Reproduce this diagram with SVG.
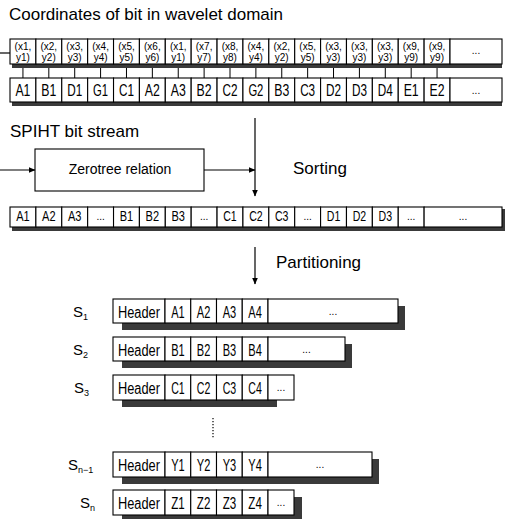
<svg xmlns="http://www.w3.org/2000/svg" width="506" height="519" viewBox="0 0 506 519">
<style>
text{font-family:"Liberation Sans",Arial,sans-serif;fill:#000}
.c{fill:#fff;stroke:#000;stroke-width:1.1}
.sh{fill:#3a3a3a}
.t1{font-size:10px;text-anchor:middle}
.t2{font-size:17px;text-anchor:middle}
.t3{font-size:14px;text-anchor:middle}
.tp{font-size:16px;text-anchor:middle}
.lab{font-size:17px}
.sl{font-size:15px}
.sub{font-size:9px}
.ln{stroke:#000;stroke-width:1.2;fill:none}
.tk{stroke:#000;stroke-width:1}
</style>
<defs>
<marker id="ah" markerWidth="7" markerHeight="6" refX="6.5" refY="3" orient="auto" markerUnits="userSpaceOnUse">
<path d="M0,0 L7,3 L0,6 Z" fill="#000"/>
</marker>
</defs>

<text class="lab" x="9" y="20">Coordinates of bit in wavelet domain</text>
<text class="lab" x="10" y="137">SPIHT bit stream</text>
<text class="lab" x="293" y="174">Sorting</text>
<text class="lab" x="276" y="268">Partitioning</text>

<g id="coords-row">
<rect class="sh" x="12" y="64" width="490" height="4"/>
<rect class="c" x="10" y="39" width="25.88" height="25"/>
<rect class="c" x="35.88" y="39" width="25.88" height="25"/>
<rect class="c" x="61.76" y="39" width="25.88" height="25"/>
<rect class="c" x="87.65" y="39" width="25.88" height="25"/>
<rect class="c" x="113.53" y="39" width="25.88" height="25"/>
<rect class="c" x="139.41" y="39" width="25.88" height="25"/>
<rect class="c" x="165.29" y="39" width="25.88" height="25"/>
<rect class="c" x="191.18" y="39" width="25.88" height="25"/>
<rect class="c" x="217.06" y="39" width="25.88" height="25"/>
<rect class="c" x="242.94" y="39" width="25.88" height="25"/>
<rect class="c" x="268.82" y="39" width="25.88" height="25"/>
<rect class="c" x="294.71" y="39" width="25.88" height="25"/>
<rect class="c" x="320.59" y="39" width="25.88" height="25"/>
<rect class="c" x="346.47" y="39" width="25.88" height="25"/>
<rect class="c" x="372.35" y="39" width="25.88" height="25"/>
<rect class="c" x="398.24" y="39" width="25.88" height="25"/>
<rect class="c" x="424.12" y="39" width="25.88" height="25"/>
<rect class="c" x="450" y="39" width="52" height="25"/>
<text class="t1" x="22.94" y="50">(x1,</text><text class="t1" x="22.94" y="61">y1)</text>
<text class="t1" x="48.82" y="50">(x2,</text><text class="t1" x="48.82" y="61">y2)</text>
<text class="t1" x="74.71" y="50">(x3,</text><text class="t1" x="74.71" y="61">y3)</text>
<text class="t1" x="100.59" y="50">(x4,</text><text class="t1" x="100.59" y="61">y4)</text>
<text class="t1" x="126.47" y="50">(x5,</text><text class="t1" x="126.47" y="61">y5)</text>
<text class="t1" x="152.35" y="50">(x6,</text><text class="t1" x="152.35" y="61">y6)</text>
<text class="t1" x="178.24" y="50">(x1,</text><text class="t1" x="178.24" y="61">y1)</text>
<text class="t1" x="204.12" y="50">(x7,</text><text class="t1" x="204.12" y="61">y7)</text>
<text class="t1" x="230" y="50">(x8,</text><text class="t1" x="230" y="61">y8)</text>
<text class="t1" x="255.88" y="50">(x4,</text><text class="t1" x="255.88" y="61">y4)</text>
<text class="t1" x="281.76" y="50">(x2,</text><text class="t1" x="281.76" y="61">y2)</text>
<text class="t1" x="307.65" y="50">(x5,</text><text class="t1" x="307.65" y="61">y5)</text>
<text class="t1" x="333.53" y="50">(x3,</text><text class="t1" x="333.53" y="61">y3)</text>
<text class="t1" x="359.41" y="50">(x3,</text><text class="t1" x="359.41" y="61">y3)</text>
<text class="t1" x="385.29" y="50">(x3,</text><text class="t1" x="385.29" y="61">y3)</text>
<text class="t1" x="411.18" y="50">(x9,</text><text class="t1" x="411.18" y="61">y9)</text>
<text class="t1" x="437.06" y="50">(x9,</text><text class="t1" x="437.06" y="61">y9)</text>
<text class="t1" x="476" y="54">...</text>
</g>

<g id="bits-row">
<rect class="sh" x="12" y="102" width="490" height="4"/>
<rect class="c" x="10" y="78" width="25.88" height="24"/>
<rect class="c" x="35.88" y="78" width="25.88" height="24"/>
<rect class="c" x="61.76" y="78" width="25.88" height="24"/>
<rect class="c" x="87.65" y="78" width="25.88" height="24"/>
<rect class="c" x="113.53" y="78" width="25.88" height="24"/>
<rect class="c" x="139.41" y="78" width="25.88" height="24"/>
<rect class="c" x="165.29" y="78" width="25.88" height="24"/>
<rect class="c" x="191.18" y="78" width="25.88" height="24"/>
<rect class="c" x="217.06" y="78" width="25.88" height="24"/>
<rect class="c" x="242.94" y="78" width="25.88" height="24"/>
<rect class="c" x="268.82" y="78" width="25.88" height="24"/>
<rect class="c" x="294.71" y="78" width="25.88" height="24"/>
<rect class="c" x="320.59" y="78" width="25.88" height="24"/>
<rect class="c" x="346.47" y="78" width="25.88" height="24"/>
<rect class="c" x="372.35" y="78" width="25.88" height="24"/>
<rect class="c" x="398.24" y="78" width="25.88" height="24"/>
<rect class="c" x="424.12" y="78" width="25.88" height="24"/>
<rect class="c" x="450" y="78" width="52" height="24"/>
<text class="t2" x="22.94" y="96" textLength="15" lengthAdjust="spacingAndGlyphs">A1</text>
<text class="t2" x="48.82" y="96" textLength="15" lengthAdjust="spacingAndGlyphs">B1</text>
<text class="t2" x="74.71" y="96" textLength="15" lengthAdjust="spacingAndGlyphs">D1</text>
<text class="t2" x="100.59" y="96" textLength="15" lengthAdjust="spacingAndGlyphs">G1</text>
<text class="t2" x="126.47" y="96" textLength="15" lengthAdjust="spacingAndGlyphs">C1</text>
<text class="t2" x="152.35" y="96" textLength="15" lengthAdjust="spacingAndGlyphs">A2</text>
<text class="t2" x="178.24" y="96" textLength="15" lengthAdjust="spacingAndGlyphs">A3</text>
<text class="t2" x="204.12" y="96" textLength="15" lengthAdjust="spacingAndGlyphs">B2</text>
<text class="t2" x="230" y="96" textLength="15" lengthAdjust="spacingAndGlyphs">C2</text>
<text class="t2" x="255.88" y="96" textLength="15" lengthAdjust="spacingAndGlyphs">G2</text>
<text class="t2" x="281.76" y="96" textLength="15" lengthAdjust="spacingAndGlyphs">B3</text>
<text class="t2" x="307.65" y="96" textLength="15" lengthAdjust="spacingAndGlyphs">C3</text>
<text class="t2" x="333.53" y="96" textLength="15" lengthAdjust="spacingAndGlyphs">D2</text>
<text class="t2" x="359.41" y="96" textLength="15" lengthAdjust="spacingAndGlyphs">D3</text>
<text class="t2" x="385.29" y="96" textLength="15" lengthAdjust="spacingAndGlyphs">D4</text>
<text class="t2" x="411.18" y="96" textLength="15" lengthAdjust="spacingAndGlyphs">E1</text>
<text class="t2" x="437.06" y="96" textLength="15" lengthAdjust="spacingAndGlyphs">E2</text>
<text class="t1" x="476" y="94">...</text>
</g>

<g id="zerotree">
<rect class="c" x="35" y="149" width="169" height="42"/>
<text class="t3" x="120" y="174">Zerotree relation</text>
</g>

<g id="sorted-row">
<rect class="sh" x="12" y="227" width="493" height="4"/>
<rect class="sh" x="502" y="209" width="3" height="22"/>
<rect class="c" x="10" y="207" width="25.88" height="20"/>
<rect class="c" x="35.88" y="207" width="25.88" height="20"/>
<rect class="c" x="61.76" y="207" width="25.88" height="20"/>
<rect class="c" x="87.65" y="207" width="25.88" height="20"/>
<rect class="c" x="113.53" y="207" width="25.88" height="20"/>
<rect class="c" x="139.41" y="207" width="25.88" height="20"/>
<rect class="c" x="165.29" y="207" width="25.88" height="20"/>
<rect class="c" x="191.18" y="207" width="25.88" height="20"/>
<rect class="c" x="217.06" y="207" width="25.88" height="20"/>
<rect class="c" x="242.94" y="207" width="25.88" height="20"/>
<rect class="c" x="268.82" y="207" width="25.88" height="20"/>
<rect class="c" x="294.71" y="207" width="25.88" height="20"/>
<rect class="c" x="320.59" y="207" width="25.88" height="20"/>
<rect class="c" x="346.47" y="207" width="25.88" height="20"/>
<rect class="c" x="372.35" y="207" width="25.88" height="20"/>
<rect class="c" x="398.24" y="207" width="25.88" height="20"/>
<rect class="c" x="424.12" y="207" width="77.88" height="20"/>
<text class="t3" x="22.94" y="221" textLength="13.5" lengthAdjust="spacingAndGlyphs">A1</text>
<text class="t3" x="48.82" y="221" textLength="13.5" lengthAdjust="spacingAndGlyphs">A2</text>
<text class="t3" x="74.71" y="221" textLength="13.5" lengthAdjust="spacingAndGlyphs">A3</text>
<text class="t1" x="100.59" y="220">...</text>
<text class="t3" x="126.47" y="221" textLength="13.5" lengthAdjust="spacingAndGlyphs">B1</text>
<text class="t3" x="152.35" y="221" textLength="13.5" lengthAdjust="spacingAndGlyphs">B2</text>
<text class="t3" x="178.24" y="221" textLength="13.5" lengthAdjust="spacingAndGlyphs">B3</text>
<text class="t1" x="204.12" y="220">...</text>
<text class="t3" x="230" y="221" textLength="13.5" lengthAdjust="spacingAndGlyphs">C1</text>
<text class="t3" x="255.88" y="221" textLength="13.5" lengthAdjust="spacingAndGlyphs">C2</text>
<text class="t3" x="281.76" y="221" textLength="13.5" lengthAdjust="spacingAndGlyphs">C3</text>
<text class="t1" x="307.65" y="220">...</text>
<text class="t3" x="333.53" y="221" textLength="13.5" lengthAdjust="spacingAndGlyphs">D1</text>
<text class="t3" x="359.41" y="221" textLength="13.5" lengthAdjust="spacingAndGlyphs">D2</text>
<text class="t3" x="385.29" y="221" textLength="13.5" lengthAdjust="spacingAndGlyphs">D3</text>
<text class="t1" x="411.18" y="220">...</text>
<text class="t1" x="463" y="220">...</text>
</g>

<g id="s1">
<text class="sl" x="73" y="317">S<tspan class="sub" dy="3">1</tspan></text>
<rect class="sh" x="122" y="306" width="283" height="24"/>
<rect class="c" x="113" y="299" width="52" height="24"/>
<rect class="c" x="165" y="299" width="25.75" height="24"/>
<rect class="c" x="190.75" y="299" width="25.75" height="24"/>
<rect class="c" x="216.5" y="299" width="25.75" height="24"/>
<rect class="c" x="242.25" y="299" width="25.75" height="24"/>
<rect class="c" x="268" y="299" width="130" height="24"/>
<text class="tp" x="139" y="318" textLength="42" lengthAdjust="spacingAndGlyphs">Header</text>
<text class="tp" x="177.9" y="318" textLength="13.5" lengthAdjust="spacingAndGlyphs">A1</text>
<text class="tp" x="203.6" y="318" textLength="13.5" lengthAdjust="spacingAndGlyphs">A2</text>
<text class="tp" x="229.4" y="318" textLength="13.5" lengthAdjust="spacingAndGlyphs">A3</text>
<text class="tp" x="255.1" y="318" textLength="13.5" lengthAdjust="spacingAndGlyphs">A4</text>
<text class="t1" x="333" y="315">...</text>
</g>

<g id="s2">
<text class="sl" x="73" y="355">S<tspan class="sub" dy="3">2</tspan></text>
<rect class="sh" x="122" y="344" width="230" height="24"/>
<rect class="c" x="113" y="337" width="52" height="24"/>
<rect class="c" x="165" y="337" width="25.75" height="24"/>
<rect class="c" x="190.75" y="337" width="25.75" height="24"/>
<rect class="c" x="216.5" y="337" width="25.75" height="24"/>
<rect class="c" x="242.25" y="337" width="25.75" height="24"/>
<rect class="c" x="268" y="337" width="77" height="24"/>
<text class="tp" x="139" y="356" textLength="42" lengthAdjust="spacingAndGlyphs">Header</text>
<text class="tp" x="177.9" y="356" textLength="13.5" lengthAdjust="spacingAndGlyphs">B1</text>
<text class="tp" x="203.6" y="356" textLength="13.5" lengthAdjust="spacingAndGlyphs">B2</text>
<text class="tp" x="229.4" y="356" textLength="13.5" lengthAdjust="spacingAndGlyphs">B3</text>
<text class="tp" x="255.1" y="356" textLength="13.5" lengthAdjust="spacingAndGlyphs">B4</text>
<text class="t1" x="306.5" y="353">...</text>
</g>

<g id="s3">
<text class="sl" x="74" y="393">S<tspan class="sub" dy="3">3</tspan></text>
<rect class="sh" x="122" y="382" width="155" height="25"/>
<rect class="c" x="113" y="375" width="52" height="25"/>
<rect class="c" x="165" y="375" width="25.75" height="25"/>
<rect class="c" x="190.75" y="375" width="25.75" height="25"/>
<rect class="c" x="216.5" y="375" width="25.75" height="25"/>
<rect class="c" x="242.25" y="375" width="25.75" height="25"/>
<rect class="c" x="268" y="375" width="26" height="25"/>
<text class="tp" x="139" y="394" textLength="42" lengthAdjust="spacingAndGlyphs">Header</text>
<text class="tp" x="177.9" y="394" textLength="13.5" lengthAdjust="spacingAndGlyphs">C1</text>
<text class="tp" x="203.6" y="394" textLength="13.5" lengthAdjust="spacingAndGlyphs">C2</text>
<text class="tp" x="229.4" y="394" textLength="13.5" lengthAdjust="spacingAndGlyphs">C3</text>
<text class="tp" x="255.1" y="394" textLength="13.5" lengthAdjust="spacingAndGlyphs">C4</text>
<text class="t1" x="281" y="391">...</text>
</g>

<g id="sn-1">
<text class="sl" x="68" y="470">S<tspan class="sub" dy="3">n−1</tspan></text>
<rect class="sh" x="122" y="459" width="257" height="25"/>
<rect class="c" x="113" y="452" width="52" height="25"/>
<rect class="c" x="165" y="452" width="25.75" height="25"/>
<rect class="c" x="190.75" y="452" width="25.75" height="25"/>
<rect class="c" x="216.5" y="452" width="25.75" height="25"/>
<rect class="c" x="242.25" y="452" width="25.75" height="25"/>
<rect class="c" x="268" y="452" width="104" height="25"/>
<text class="tp" x="139" y="471" textLength="42" lengthAdjust="spacingAndGlyphs">Header</text>
<text class="tp" x="177.9" y="471" textLength="13.5" lengthAdjust="spacingAndGlyphs">Y1</text>
<text class="tp" x="203.6" y="471" textLength="13.5" lengthAdjust="spacingAndGlyphs">Y2</text>
<text class="tp" x="229.4" y="471" textLength="13.5" lengthAdjust="spacingAndGlyphs">Y3</text>
<text class="tp" x="255.1" y="471" textLength="13.5" lengthAdjust="spacingAndGlyphs">Y4</text>
<text class="t1" x="320" y="468">...</text>
</g>

<g id="sn">
<text class="sl" x="80" y="508">S<tspan class="sub" dy="3">n</tspan></text>
<rect class="sh" x="122" y="497" width="180" height="25"/>
<rect class="c" x="113" y="490" width="52" height="25"/>
<rect class="c" x="165" y="490" width="25.75" height="25"/>
<rect class="c" x="190.75" y="490" width="25.75" height="25"/>
<rect class="c" x="216.5" y="490" width="25.75" height="25"/>
<rect class="c" x="242.25" y="490" width="25.75" height="25"/>
<rect class="c" x="268" y="490" width="26" height="25"/>
<text class="tp" x="139" y="509" textLength="42" lengthAdjust="spacingAndGlyphs">Header</text>
<text class="tp" x="177.9" y="509" textLength="13.5" lengthAdjust="spacingAndGlyphs">Z1</text>
<text class="tp" x="203.6" y="509" textLength="13.5" lengthAdjust="spacingAndGlyphs">Z2</text>
<text class="tp" x="229.4" y="509" textLength="13.5" lengthAdjust="spacingAndGlyphs">Z3</text>
<text class="tp" x="255.1" y="509" textLength="13.5" lengthAdjust="spacingAndGlyphs">Z4</text>
<text class="t1" x="281" y="506">...</text>
</g>

<g id="connectors">
<line class="ln" x1="0" y1="53" x2="10" y2="53"/>
<g class="tk">
<line x1="22.94" y1="68" x2="22.94" y2="78"/>
<line x1="48.82" y1="68" x2="48.82" y2="78"/>
<line x1="74.71" y1="68" x2="74.71" y2="78"/>
<line x1="100.59" y1="68" x2="100.59" y2="78"/>
<line x1="126.47" y1="68" x2="126.47" y2="78"/>
<line x1="152.35" y1="68" x2="152.35" y2="78"/>
<line x1="178.24" y1="68" x2="178.24" y2="78"/>
<line x1="204.12" y1="68" x2="204.12" y2="78"/>
<line x1="230" y1="68" x2="230" y2="78"/>
<line x1="255.88" y1="68" x2="255.88" y2="78"/>
<line x1="281.76" y1="68" x2="281.76" y2="78"/>
<line x1="307.65" y1="68" x2="307.65" y2="78"/>
<line x1="333.53" y1="68" x2="333.53" y2="78"/>
<line x1="359.41" y1="68" x2="359.41" y2="78"/>
<line x1="385.29" y1="68" x2="385.29" y2="78"/>
<line x1="411.18" y1="68" x2="411.18" y2="78"/>
<line x1="437.06" y1="68" x2="437.06" y2="78"/>
</g>
<line class="ln" x1="0" y1="170" x2="35" y2="170" marker-end="url(#ah)"/>
<line class="ln" x1="204" y1="170" x2="255" y2="170" marker-end="url(#ah)"/>
<line class="ln" x1="255" y1="118" x2="255" y2="196" marker-end="url(#ah)"/>
<line class="ln" x1="255" y1="247" x2="255" y2="284" marker-end="url(#ah)"/>
<line x1="213" y1="418" x2="213" y2="438" stroke="#000" stroke-width="1.2" stroke-dasharray="1.2,1.8"/>
</g>
</svg>
